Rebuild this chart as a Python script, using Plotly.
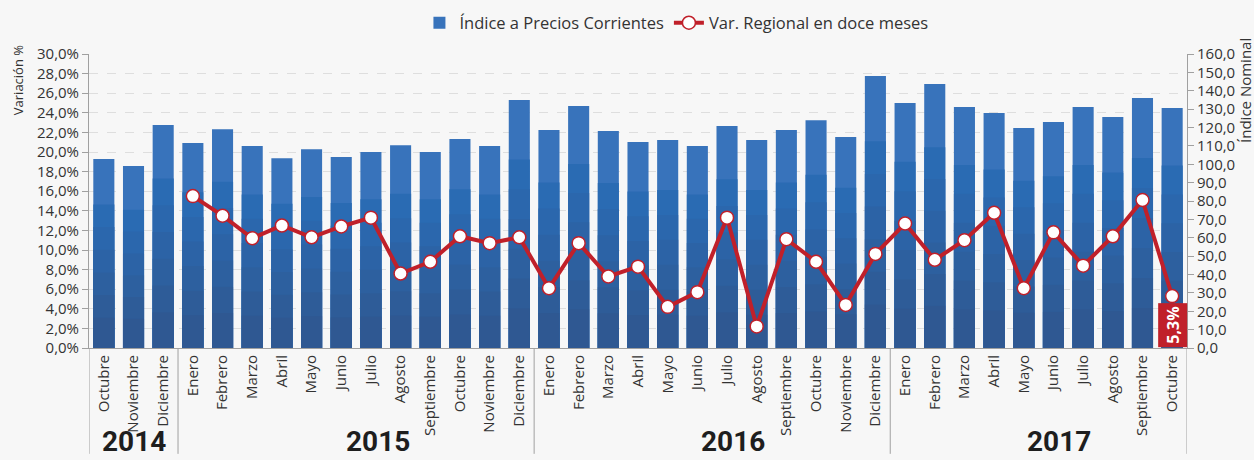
import plotly.graph_objects as go

# ---------------- data ----------------
months = (["Octubre", "Noviembre", "Diciembre"]
          + ["Enero", "Febrero", "Marzo", "Abril", "Mayo", "Junio", "Julio",
             "Agosto", "Septiembre", "Octubre", "Noviembre", "Diciembre"] * 2
          + ["Enero", "Febrero", "Marzo", "Abril", "Mayo", "Junio", "Julio",
             "Agosto", "Septiembre", "Octubre"])
years = ["2014"] * 3 + ["2015"] * 12 + ["2016"] * 12 + ["2017"] * 10

indice = [102.8, 99.0, 121.3,
          111.5, 119.1, 109.9, 103.3, 108.2, 103.9, 106.6, 110.4, 106.6, 113.7, 109.9, 134.9,
          118.6, 131.7, 118.1, 112.1, 113.2, 109.9, 120.8, 113.2, 118.6, 124.0, 114.8, 148.0,
          133.3, 143.7, 131.1, 127.9, 119.7, 123.0, 131.1, 125.7, 136.1, 130.6]

variacion = [None, None, None,
             15.5, 13.5, 11.2, 12.5, 11.3, 12.4, 13.3, 7.6, 8.8, 11.4, 10.7, 11.3,
             6.1, 10.7, 7.3, 8.3, 4.2, 5.7, 13.3, 2.2, 11.1, 8.8, 4.4, 9.6,
             12.7, 9.0, 11.0, 13.8, 6.1, 11.8, 8.4, 11.4, 15.1, 5.3]

left_ticks = list(range(0, 31, 2))
left_tick_labels = [f"{v:.1f}".replace(".", ",") + "%" for v in left_ticks]
right_ticks = list(range(0, 161, 10))
right_tick_labels = [f"{v:.1f}".replace(".", ",") for v in right_ticks]
year_labels = ["2014", "2015", "2016", "2017"]

# ---------------- styling ----------------
FONT = "Open Sans"
BG = "#f7f7f7"
RED = "#c0202a"
TXT = "#333333"

x = list(range(len(months)))

fig = go.Figure()

# bars with banded shading (approximate vertical gradient)
bands = [(1.00, "#3873bb"), (0.76, "#2a6bb3"), (0.64, "#2b67ad"), (0.52, "#2c63a6"),
         (0.40, "#2d609f"), (0.28, "#2e5c98"), (0.16, "#2f5892")]
for i, (frac, col) in enumerate(bands):
    fig.add_trace(go.Bar(
        x=x, y=[v * frac for v in indice],
        name="Índice a Precios Corrientes",
        marker=dict(color=col, line=dict(width=0)),
        width=0.71,
        showlegend=(i == 0),
        legendrank=1,
        yaxis="y",
        hoverinfo="skip" if i else None,
    ))

fig.add_trace(go.Scatter(
    x=x, y=variacion,
    name="Var. Regional en doce meses",
    mode="lines+markers",
    line=dict(color=RED, width=4),
    marker=dict(size=13, color="white", line=dict(color=RED, width=1.5)),
    yaxis="y2",
    legendrank=2,
))

# separators and year labels
n = len(months)
bounds = [-0.5] + [i - 0.5 for i in range(1, n) if years[i] != years[i - 1]] + [n - 0.5]
for b in bounds:
    fig.add_shape(type="line", xref="x", yref="paper", x0=b, x1=b, y0=0, y1=-0.36,
                  line=dict(color="#a0a0a0", width=1))

year_x = [1.0, 9.25, 21.2, 32.2]
for yl, yx in zip(year_labels, year_x):
    fig.add_annotation(x=yx, y=-0.378, xref="x", yref="paper", text=f"<b>{yl}</b>",
                       showarrow=False, yanchor="bottom", xanchor="center", borderpad=0,
                       font=dict(family="Roboto", size=28, color="#1e1e1e"))

# last value label
last_txt = f"{variacion[-1]:.1f}".replace(".", ",") + "%"
fig.add_annotation(x=n - 1, y=0, xref="x", yref="y2", text=f"<b>{last_txt}</b>",
                   showarrow=False, textangle=-90, yanchor="bottom", xanchor="center",
                   bgcolor=RED, borderpad=3,
                   font=dict(family=FONT, size=16, color="white"))

# axis titles
fig.add_annotation(x=-0.064, y=0.91, xref="paper", yref="paper", text="Variación %",
                   showarrow=False, textangle=-90, xanchor="center", yanchor="middle",
                   font=dict(family=FONT, size=13, color=TXT))
fig.add_annotation(x=1.053, y=0.875, xref="paper", yref="paper", text="Índice Nominal",
                   showarrow=False, textangle=-90, xanchor="center", yanchor="middle",
                   font=dict(family=FONT, size=15, color=TXT))

fig.update_layout(
    width=1254, height=460,
    margin=dict(l=89, r=67, t=54, b=112, autoexpand=False),
    paper_bgcolor=BG, plot_bgcolor=BG,
    separators=",.",
    barmode="overlay",
    font=dict(family=FONT, size=15, color=TXT),
    legend=dict(orientation="h", x=0.535, y=0.95, xref="paper", yref="container",
                xanchor="center", yanchor="middle",
                font=dict(family=FONT, size=16.5, color=TXT), bgcolor="rgba(0,0,0,0)",
                itemwidth=30, traceorder="normal"),
    xaxis=dict(
        range=[-0.5, n - 0.5], automargin=False,
        tickmode="array", tickvals=x, ticktext=months,
        tickangle=-90, ticks="", showgrid=False, zeroline=False,
        showline=True, linecolor="#a0a0a0", linewidth=1,
        tickfont=dict(family=FONT, size=15, color=TXT),
    ),
    yaxis=dict(
        side="right", range=[0, 160], automargin=False,
        tickmode="array", tickvals=right_ticks, ticktext=right_tick_labels,
        showgrid=False, zeroline=False,
        showline=True, linecolor="#a0a0a0", linewidth=1,
        ticks="outside", ticklen=6, tickcolor="#a0a0a0",
        tickfont=dict(family=FONT, size=15, color=TXT),
    ),
    yaxis2=dict(
        side="left", overlaying="y", range=[0, 30], automargin=False,
        tickmode="array", tickvals=left_ticks, ticktext=left_tick_labels,
        showgrid=True, gridcolor="#dedede", griddash="dash", gridwidth=1,
        zeroline=False, showline=True, linecolor="#a0a0a0", linewidth=1,
        ticks="outside", ticklen=6, tickcolor="#a0a0a0",
        tickfont=dict(family=FONT, size=15, color=TXT),
    ),
)

fig.write_html(
    "out.html",
    config={"displayModeBar": False},
    post_script="document.body.style.margin='0';document.body.style.padding='0';"
                "document.body.style.overflow='hidden';",
)
